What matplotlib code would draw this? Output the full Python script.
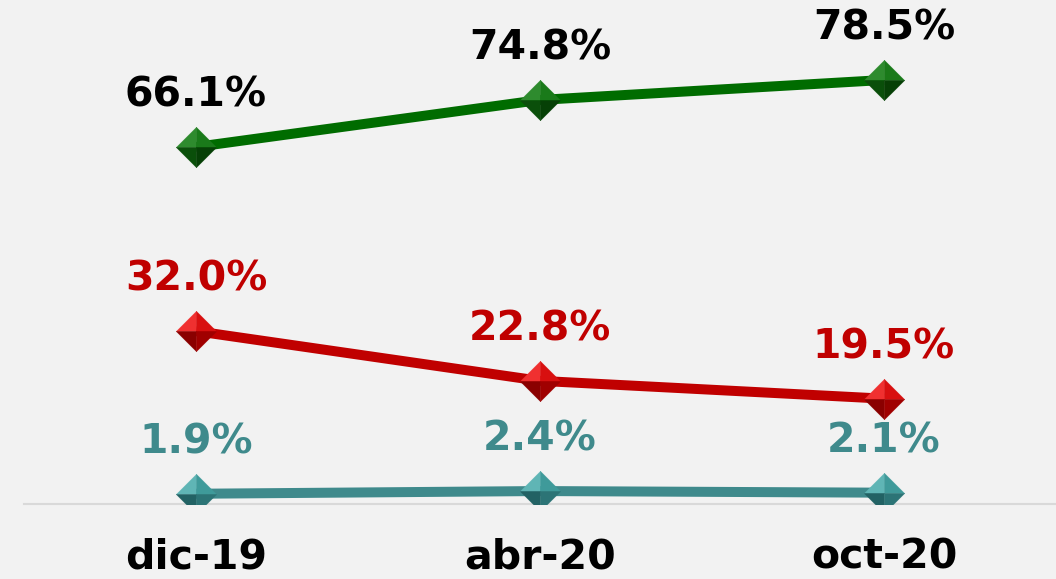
import matplotlib.pyplot as plt
from matplotlib.path import Path

# data
periods = ["dic-19", "abr-20", "oct-20"]
series_green = [66.1, 74.8, 78.5]
series_red = [32.0, 22.8, 19.5]
series_teal = [1.9, 2.4, 2.1]

BG = "#F2F2F2"

# four facets of the diamond marker, for a bevelled look
facets = {
    "tl": Path([(0, 0), (-1, 0), (0, 1), (0, 0)], closed=True),
    "tr": Path([(0, 0), (0, 1), (1, 0), (0, 0)], closed=True),
    "bl": Path([(0, 0), (-1, 0), (0, -1), (0, 0)], closed=True),
    "br": Path([(0, 0), (0, -1), (1, 0), (0, 0)], closed=True),
}

styles = [
    (series_green, "#006C00", "#000000",
     {"tl": "#2E8B2E", "tr": "#1A7A1A", "bl": "#0A4F0A", "br": "#064006"}),
    (series_red, "#C00000", "#C00000",
     {"tl": "#F03030", "tr": "#D81010", "bl": "#8A0000", "br": "#A00000"}),
    (series_teal, "#3F8A8C", "#3F8A8C",
     {"tl": "#5FB5B5", "tr": "#3F9A9A", "bl": "#226264", "br": "#2C7476"}),
]

fig = plt.figure(figsize=(10.56, 5.79), dpi=100, facecolor=BG)
ax = fig.add_axes([0.0227, 0.1295, 0.9773, 0.8705])
ax.set_facecolor(BG)

x = list(range(len(periods)))
for values, line_c, text_c, fc in styles:
    ax.plot(x, values, color=line_c, lw=7.2, solid_capstyle="butt", zorder=2)
    for key, path in facets.items():
        ax.plot(x, values, ls="none", marker=path, ms=29,
                mfc=fc[key], mec=fc[key], mew=0.3, zorder=3)
    for xi, v in zip(x, values):
        ax.annotate(f"{v:.1f}%", (xi, v), xytext=(0, 29),
                    textcoords="offset points", ha="center", va="baseline",
                    fontsize=29.5, fontweight="bold", color=text_c)

ax.set_xlim(-0.5, 2.5)
ax.set_ylim(0, 93.3)
ax.set_xticks(x)
ax.set_xticklabels(periods, fontsize=29.5, fontweight="bold", color="black")
ax.tick_params(axis="x", length=0, pad=24)
ax.set_yticks([])
for side in ["top", "right", "left"]:
    ax.spines[side].set_visible(False)
ax.spines["bottom"].set_color("#D9D9D9")
ax.spines["bottom"].set_linewidth(1.5)

fig.savefig("out.png", dpi=100, facecolor=BG)
